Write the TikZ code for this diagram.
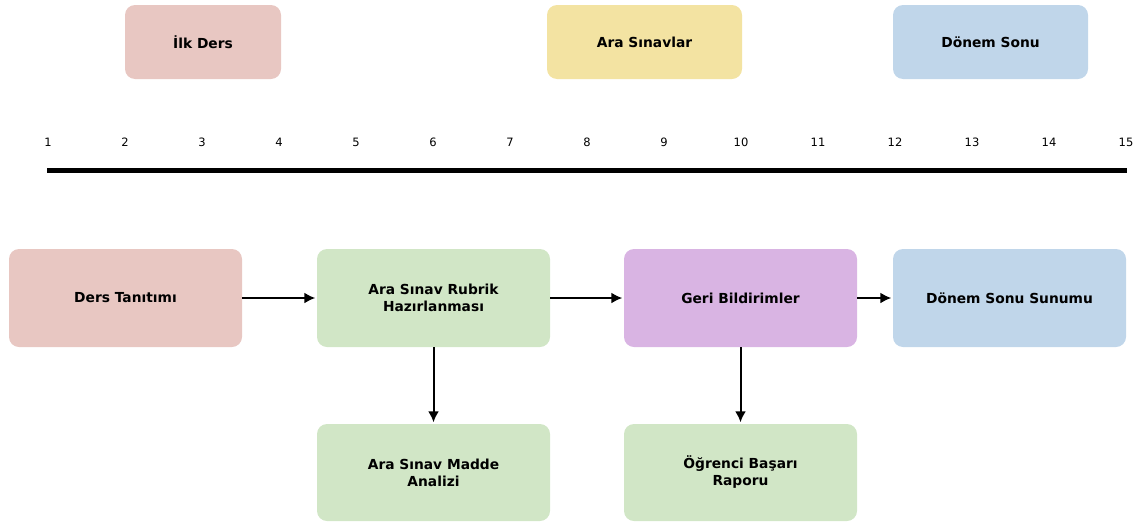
\documentclass[tikz,border=0pt]{standalone}
\usepackage{fontspec}
\setmainfont{DejaVu Sans}
\usetikzlibrary{arrows.meta}
\definecolor{cpink}{HTML}{E8C7C2}
\definecolor{cyellow}{HTML}{F3E3A2}
\definecolor{cblue}{HTML}{C0D6EA}
\definecolor{cgreen}{HTML}{D1E6C6}
\definecolor{cpurple}{HTML}{D9B4E3}
\begin{document}
\begin{tikzpicture}[x=1pt,y=-1pt,
  box/.style={rounded corners=10pt, inner sep=0pt, align=center, font=\bfseries\fontsize{13.8}{17}\selectfont},
  conn/.style={-{Latex[length=11pt,width=11pt]}, line width=2pt, shorten >=1.5pt},
  tick/.style={font=\fontsize{11.5}{13}\selectfont, inner sep=0pt}]
\useasboundingbox (0,0) rectangle (1139,525);
% top boxes
\node[box, fill=cpink, minimum width=156pt, minimum height=74pt] (ilk) at (203,42) {İlk Ders};
\node[box, fill=cyellow, minimum width=195pt, minimum height=74pt] (ara) at (644.5,42) {Ara Sınavlar};
\node[box, fill=cblue, minimum width=195pt, minimum height=74pt] (donem) at (990.5,42) {Dönem Sonu};
% timeline
\coordinate (tl) at (47,170);
\coordinate (tr) at (1127,170);
\draw[line width=5pt] (tl) -- (tr);
\foreach \k in {1,...,15} {
  \node[tick] (t\k) at ({48+77*(\k-1)},142) {\k};
}
% bottom boxes
\node[box, fill=cpink, minimum width=233pt, minimum height=98pt] (ders) at (125.5,298) {Ders Tanıtımı};
\node[box, fill=cgreen, minimum width=233pt, minimum height=98pt] (rubrik) at (433.5,298) {Ara Sınav Rubrik\\Hazırlanması};
\node[box, fill=cpurple, minimum width=233pt, minimum height=98pt] (geri) at (740.5,298) {Geri Bildirimler};
\node[box, fill=cblue, minimum width=233pt, minimum height=98pt] (sunum) at (1009.5,298) {Dönem Sonu Sunumu};
\node[box, fill=cgreen, minimum width=233pt, minimum height=97pt] (madde) at (433.5,472.5) {Ara Sınav Madde\\Analizi};
\node[box, fill=cgreen, minimum width=233pt, minimum height=97pt] (rapor) at (740.5,472.5) {Öğrenci Başarı\\Raporu};
% arrows
\draw[conn] (ders.east) -- (rubrik.west);
\draw[conn] (rubrik.east) -- (geri.west);
\draw[conn] (geri.east) -- (sunum.west);
\draw[conn] (rubrik.south) -- (madde.north);
\draw[conn] (geri.south) -- (rapor.north);
\end{tikzpicture}
\end{document}
